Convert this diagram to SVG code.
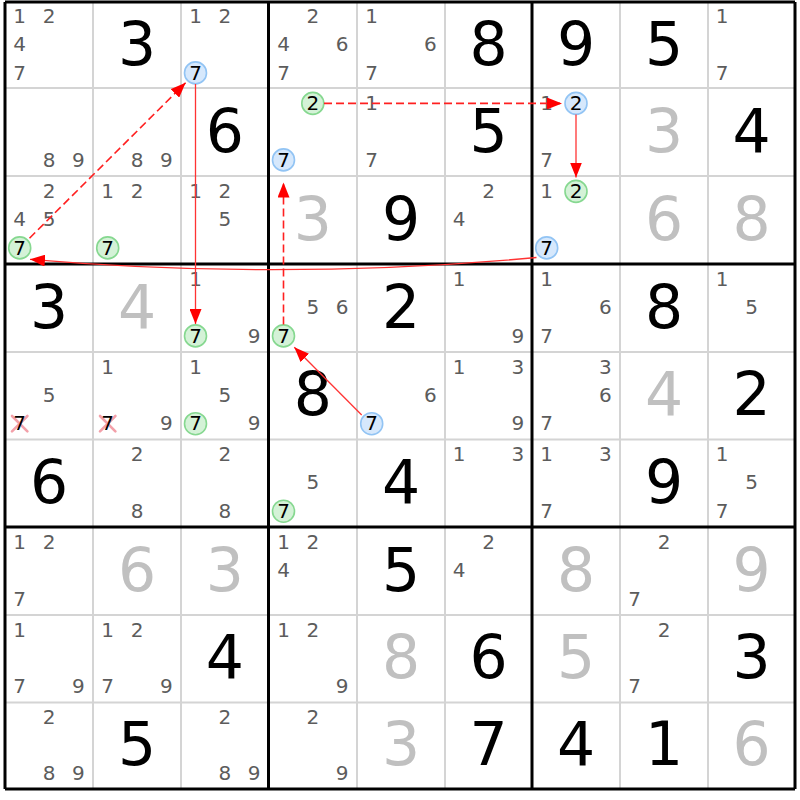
<svg xmlns="http://www.w3.org/2000/svg" width="800" height="800" viewBox="0 0 800 800">
<style>
text{font-family:"DejaVu Sans","Liberation Sans",sans-serif;text-anchor:middle}
.c{font-size:20px;fill:#5c5c5c}
.k{font-size:20px;fill:#000}
.b{font-size:60px;fill:#000}
.s{font-size:60px;fill:#c0c0c0}
.cb{fill:#d6e8fc;stroke:#92c4f4;stroke-width:1.6}
.cg{fill:#d4f2d7;stroke:#86d890;stroke-width:1.6}
.x{stroke:#f3a0a9;stroke-width:2.6;stroke-linecap:round}
.thin{stroke:#d4d4d4;stroke-width:2}
.thick{stroke:#000;stroke-width:3}
.sol{fill:none;stroke:#ff3333;stroke-width:1.3}
.dash{fill:none;stroke:#ff2020;stroke-width:1.6;stroke-dasharray:8 4}
</style>
<defs>
<marker id="ah" markerWidth="16" markerHeight="12" refX="15" refY="6" orient="auto" markerUnits="userSpaceOnUse"><path d="M0,0 L15,6 L0,12 z" fill="#ff0000"/></marker>
</defs>
<rect width="800" height="800" fill="#fff"/>
<g id="grid">
<path class="thin" d="M93,2V789M181,2V789M357,2V789M445,2V789M620,2V789M708,2V789M5,88H795M5,176H795M5,352H795M5,439.5H795M5,615H795M5,702.5H795"/>
<path class="thick" d="M5,2V789M268.5,2V789M532,2V789M795,2V789M5,2H795M5,264H795M5,527H795M5,789H795"/>
</g>
<g id="r0">
<g id="r0c0"><text class="c" x="19.7" y="23">1</text><text class="c" x="49" y="23">2</text><text class="c" x="19.7" y="51">4</text><text class="c" x="19.7" y="79.5">7</text></g>
<g id="r0c1"><text class="b" x="137" y="64.5">3</text></g>
<g id="r0c2"><text class="c" x="195.5" y="23">1</text><text class="c" x="224.8" y="23">2</text><circle class="cb" cx="195.5" cy="72.9" r="11"/><text class="k" x="195.5" y="79.5">7</text></g>
<g id="r0c3"><text class="c" x="312.8" y="23">2</text><text class="c" x="283.5" y="51">4</text><text class="c" x="342.1" y="51">6</text><text class="c" x="283.5" y="79.5">7</text></g>
<g id="r0c4"><text class="c" x="371.7" y="23">1</text><text class="c" x="430.3" y="51">6</text><text class="c" x="371.7" y="79.5">7</text></g>
<g id="r0c5"><text class="b" x="488.5" y="64.5">8</text></g>
<g id="r0c6"><text class="b" x="576" y="64.5">9</text></g>
<g id="r0c7"><text class="b" x="664" y="64.5">5</text></g>
<g id="r0c8"><text class="c" x="722.2" y="23">1</text><text class="c" x="722.2" y="79.5">7</text></g>
</g>
<g id="r1">
<g id="r1c0"><text class="c" x="49" y="166.5">8</text><text class="c" x="78.3" y="166.5">9</text></g>
<g id="r1c1"><text class="c" x="137" y="166.5">8</text><text class="c" x="166.3" y="166.5">9</text></g>
<g id="r1c2"><text class="b" x="224.8" y="151.5">6</text></g>
<g id="r1c3"><circle class="cg" cx="312.8" cy="103.4" r="11"/><text class="k" x="312.8" y="110">2</text><circle class="cb" cx="283.5" cy="159.9" r="11"/><text class="k" x="283.5" y="166.5">7</text></g>
<g id="r1c4"><text class="c" x="371.7" y="110">1</text><text class="c" x="371.7" y="166.5">7</text></g>
<g id="r1c5"><text class="b" x="488.5" y="151.5">5</text></g>
<g id="r1c6"><text class="c" x="546.7" y="110">1</text><circle class="cb" cx="576" cy="103.4" r="11"/><text class="k" x="576" y="110">2</text><text class="c" x="546.7" y="166.5">7</text></g>
<g id="r1c7"><text class="s" x="664" y="151.5">3</text></g>
<g id="r1c8"><text class="b" x="751.5" y="151.5">4</text></g>
</g>
<g id="r2">
<g id="r2c0"><text class="c" x="49" y="198">2</text><text class="c" x="19.7" y="226">4</text><text class="c" x="49" y="226">5</text><circle class="cg" cx="19.7" cy="247.9" r="11"/><text class="k" x="19.7" y="254.5">7</text></g>
<g id="r2c1"><text class="c" x="107.7" y="198">1</text><text class="c" x="137" y="198">2</text><circle class="cg" cx="107.7" cy="247.9" r="11"/><text class="k" x="107.7" y="254.5">7</text></g>
<g id="r2c2"><text class="c" x="195.5" y="198">1</text><text class="c" x="224.8" y="198">2</text><text class="c" x="224.8" y="226">5</text></g>
<g id="r2c3"><text class="s" x="312.8" y="239.5">3</text></g>
<g id="r2c4"><text class="b" x="401" y="239.5">9</text></g>
<g id="r2c5"><text class="c" x="488.5" y="198">2</text><text class="c" x="459.2" y="226">4</text></g>
<g id="r2c6"><text class="c" x="546.7" y="198">1</text><circle class="cg" cx="576" cy="191.4" r="11"/><text class="k" x="576" y="198">2</text><circle class="cb" cx="546.7" cy="247.9" r="11"/><text class="k" x="546.7" y="254.5">7</text></g>
<g id="r2c7"><text class="s" x="664" y="239.5">6</text></g>
<g id="r2c8"><text class="s" x="751.5" y="239.5">8</text></g>
</g>
<g id="r3">
<g id="r3c0"><text class="b" x="49" y="327.5">3</text></g>
<g id="r3c1"><text class="s" x="137" y="327.5">4</text></g>
<g id="r3c2"><text class="c" x="195.5" y="286">1</text><circle class="cg" cx="195.5" cy="335.9" r="11"/><text class="k" x="195.5" y="342.5">7</text><text class="c" x="254.1" y="342.5">9</text></g>
<g id="r3c3"><text class="c" x="312.8" y="314">5</text><text class="c" x="342.1" y="314">6</text><circle class="cg" cx="283.5" cy="335.9" r="11"/><text class="k" x="283.5" y="342.5">7</text></g>
<g id="r3c4"><text class="b" x="401" y="327.5">2</text></g>
<g id="r3c5"><text class="c" x="459.2" y="286">1</text><text class="c" x="517.8" y="342.5">9</text></g>
<g id="r3c6"><text class="c" x="546.7" y="286">1</text><text class="c" x="605.3" y="314">6</text><text class="c" x="546.7" y="342.5">7</text></g>
<g id="r3c7"><text class="b" x="664" y="327.5">8</text></g>
<g id="r3c8"><text class="c" x="722.2" y="286">1</text><text class="c" x="751.5" y="314">5</text></g>
</g>
<g id="r4">
<g id="r4c0"><text class="c" x="49" y="401.8">5</text><path class="x" d="M12,416L27.4,431.4M27.4,416L12,431.4"/><text class="k" x="19.7" y="430.3">7</text></g>
<g id="r4c1"><text class="c" x="107.7" y="373.8">1</text><path class="x" d="M100,416L115.4,431.4M115.4,416L100,431.4"/><text class="k" x="107.7" y="430.3">7</text><text class="c" x="166.3" y="430.3">9</text></g>
<g id="r4c2"><text class="c" x="195.5" y="373.8">1</text><text class="c" x="224.8" y="401.8">5</text><circle class="cg" cx="195.5" cy="423.7" r="11"/><text class="k" x="195.5" y="430.3">7</text><text class="c" x="254.1" y="430.3">9</text></g>
<g id="r4c3"><text class="b" x="312.8" y="415.3">8</text></g>
<g id="r4c4"><text class="c" x="430.3" y="401.8">6</text><circle class="cb" cx="371.7" cy="423.7" r="11"/><text class="k" x="371.7" y="430.3">7</text></g>
<g id="r4c5"><text class="c" x="459.2" y="373.8">1</text><text class="c" x="517.8" y="373.8">3</text><text class="c" x="517.8" y="430.3">9</text></g>
<g id="r4c6"><text class="c" x="605.3" y="373.8">3</text><text class="c" x="605.3" y="401.8">6</text><text class="c" x="546.7" y="430.3">7</text></g>
<g id="r4c7"><text class="s" x="664" y="415.3">4</text></g>
<g id="r4c8"><text class="b" x="751.5" y="415.3">2</text></g>
</g>
<g id="r5">
<g id="r5c0"><text class="b" x="49" y="502.8">6</text></g>
<g id="r5c1"><text class="c" x="137" y="461.3">2</text><text class="c" x="137" y="517.8">8</text></g>
<g id="r5c2"><text class="c" x="224.8" y="461.3">2</text><text class="c" x="224.8" y="517.8">8</text></g>
<g id="r5c3"><text class="c" x="312.8" y="489.3">5</text><circle class="cg" cx="283.5" cy="511.2" r="11"/><text class="k" x="283.5" y="517.8">7</text></g>
<g id="r5c4"><text class="b" x="401" y="502.8">4</text></g>
<g id="r5c5"><text class="c" x="459.2" y="461.3">1</text><text class="c" x="517.8" y="461.3">3</text></g>
<g id="r5c6"><text class="c" x="546.7" y="461.3">1</text><text class="c" x="605.3" y="461.3">3</text><text class="c" x="546.7" y="517.8">7</text></g>
<g id="r5c7"><text class="b" x="664" y="502.8">9</text></g>
<g id="r5c8"><text class="c" x="722.2" y="461.3">1</text><text class="c" x="751.5" y="489.3">5</text><text class="c" x="722.2" y="517.8">7</text></g>
</g>
<g id="r6">
<g id="r6c0"><text class="c" x="19.7" y="549">1</text><text class="c" x="49" y="549">2</text><text class="c" x="19.7" y="605.5">7</text></g>
<g id="r6c1"><text class="s" x="137" y="590.5">6</text></g>
<g id="r6c2"><text class="s" x="224.8" y="590.5">3</text></g>
<g id="r6c3"><text class="c" x="283.5" y="549">1</text><text class="c" x="312.8" y="549">2</text><text class="c" x="283.5" y="577">4</text></g>
<g id="r6c4"><text class="b" x="401" y="590.5">5</text></g>
<g id="r6c5"><text class="c" x="488.5" y="549">2</text><text class="c" x="459.2" y="577">4</text></g>
<g id="r6c6"><text class="s" x="576" y="590.5">8</text></g>
<g id="r6c7"><text class="c" x="664" y="549">2</text><text class="c" x="634.7" y="605.5">7</text></g>
<g id="r6c8"><text class="s" x="751.5" y="590.5">9</text></g>
</g>
<g id="r7">
<g id="r7c0"><text class="c" x="19.7" y="636.8">1</text><text class="c" x="19.7" y="693.3">7</text><text class="c" x="78.3" y="693.3">9</text></g>
<g id="r7c1"><text class="c" x="107.7" y="636.8">1</text><text class="c" x="137" y="636.8">2</text><text class="c" x="107.7" y="693.3">7</text><text class="c" x="166.3" y="693.3">9</text></g>
<g id="r7c2"><text class="b" x="224.8" y="678.3">4</text></g>
<g id="r7c3"><text class="c" x="283.5" y="636.8">1</text><text class="c" x="312.8" y="636.8">2</text><text class="c" x="342.1" y="693.3">9</text></g>
<g id="r7c4"><text class="s" x="401" y="678.3">8</text></g>
<g id="r7c5"><text class="b" x="488.5" y="678.3">6</text></g>
<g id="r7c6"><text class="s" x="576" y="678.3">5</text></g>
<g id="r7c7"><text class="c" x="664" y="636.8">2</text><text class="c" x="634.7" y="693.3">7</text></g>
<g id="r7c8"><text class="b" x="751.5" y="678.3">3</text></g>
</g>
<g id="r8">
<g id="r8c0"><text class="c" x="49" y="723.8">2</text><text class="c" x="49" y="780.3">8</text><text class="c" x="78.3" y="780.3">9</text></g>
<g id="r8c1"><text class="b" x="137" y="765.3">5</text></g>
<g id="r8c2"><text class="c" x="224.8" y="723.8">2</text><text class="c" x="224.8" y="780.3">8</text><text class="c" x="254.1" y="780.3">9</text></g>
<g id="r8c3"><text class="c" x="312.8" y="723.8">2</text><text class="c" x="342.1" y="780.3">9</text></g>
<g id="r8c4"><text class="s" x="401" y="765.3">3</text></g>
<g id="r8c5"><text class="b" x="488.5" y="765.3">7</text></g>
<g id="r8c6"><text class="b" x="576" y="765.3">4</text></g>
<g id="r8c7"><text class="b" x="664" y="765.3">1</text></g>
<g id="r8c8"><text class="s" x="751.5" y="765.3">6</text></g>
</g>
<g id="connectors">
<path class="dash" d="M29.5,238.2L185.6,82.8" marker-end="url(#ah)"/>
<path class="sol" d="M195.5,84V324" marker-end="url(#ah)"/>
<path class="sol" d="M536.5,257.5Q282,281 30,259.3" marker-end="url(#ah)"/>
<path class="dash" d="M283.5,324.5V182.5" marker-end="url(#ah)"/>
<path class="dash" d="M324,103.4H562" marker-end="url(#ah)"/>
<path class="sol" d="M576,114.4V177.5" marker-end="url(#ah)"/>
<path class="sol" d="M361.7,415L294.3,347.3" marker-end="url(#ah)"/>
</g>
</svg>
